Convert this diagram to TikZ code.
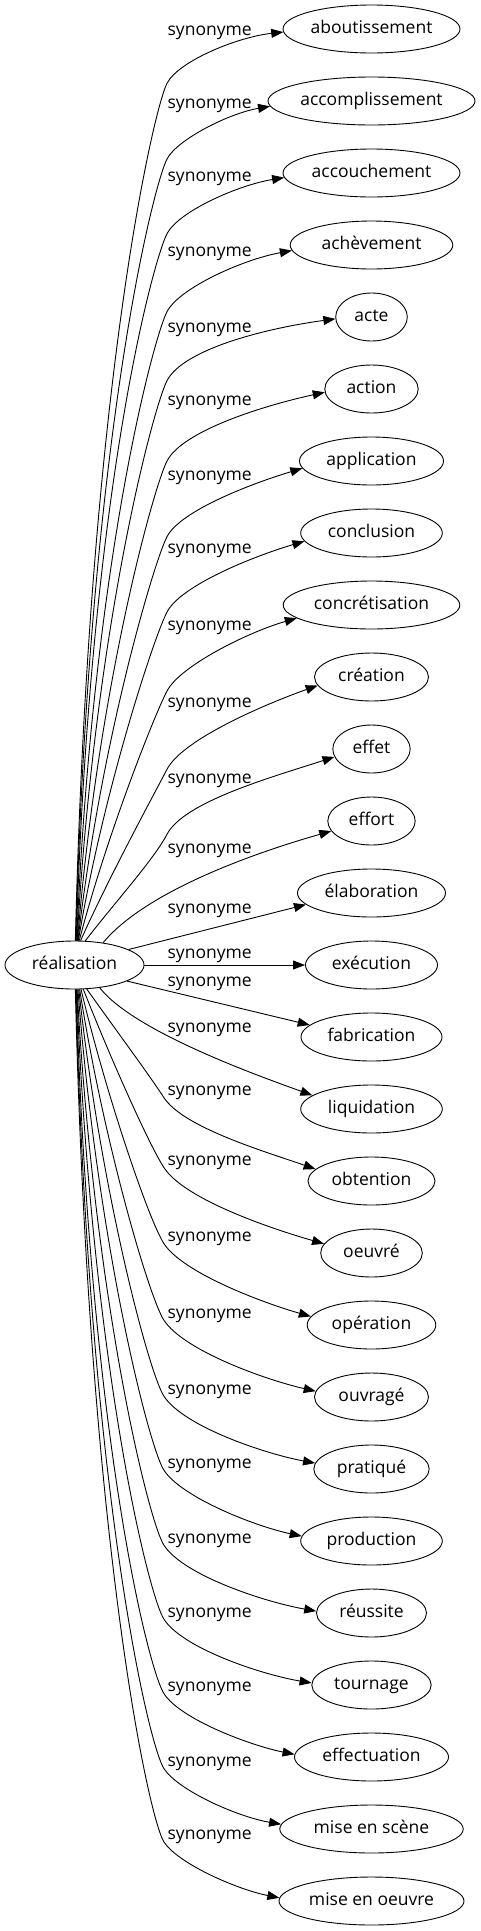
\documentclass[tikz,border=0pt]{standalone}
\usepackage{fontspec}
\setmainfont{Open Sans}
\usetikzlibrary{arrows.meta,calc,shapes.geometric}

% upper edge: #1 node, #2 yc, #3 half width, #4 label y, #5 knee offset, #6 start angle, #7 end angle, #8 theta
\newcommand\UpEdge[8]{%
  \pgfmathsetmacro\eRS{1/sqrt((cos(#6)/69.5)^2+(sin(#6)/24)^2)}%
  \pgfmathsetmacro\eSx{74.5+\eRS*cos(#6)}%
  \pgfmathsetmacro\eSy{965-\eRS*sin(#6)}%
  \pgfmathsetmacro\eRT{1/sqrt((cos(#7)/#3)^2+(sin(#7)/24)^2)}%
  \pgfmathsetmacro\eTx{371.5+\eRT*cos(#7)}%
  \pgfmathsetmacro\eTy{#2-\eRT*sin(#7)}%
  \pgfmathsetmacro\eKx{167}%
  \pgfmathsetmacro\eKy{#4+#5}%
  \pgfmathsetmacro\eDX{\eKx-\eSx}%
  \pgfmathsetmacro\eDY{\eSy-\eKy}%
  \pgfmathsetmacro\eF{min(1,max(0,(\eDY-120)/600))}%
  \pgfmathsetmacro\eCa{\eSx+(0.35-0.2*\eF)*\eDX}%
  \pgfmathsetmacro\eCb{\eSy-(0.35+0.3*\eF)*\eDY}%
  \pgfmathsetmacro\eS{0.22*(\eTx-\eKx)}%
  \pgfmathsetmacro\eL{0.38*(\eTx-\eKx)}%
  \draw[edge] (r.#6) .. controls (\eCa,\eCb) and ({\eKx-13},{\eKy+25}) .. (\eKx,\eKy)
    .. controls ({\eKx+0.46*\eS},{\eKy-0.89*\eS}) and ({\eTx-\eL*cos(#8)},{\eTy+\eL*sin(#8)}) .. (#1.#7);
}
% lower edge: #1 node, #2 yc, #3 half width, #4 label y, #5 start angle, #6 end angle, #7 theta
\newcommand\DnEdge[7]{%
  \pgfmathsetmacro\eRS{1/sqrt((cos(#5)/69.5)^2+(sin(#5)/24)^2)}%
  \pgfmathsetmacro\eSx{74.5+\eRS*cos(#5)}%
  \pgfmathsetmacro\eSy{965-\eRS*sin(#5)}%
  \pgfmathsetmacro\eRT{1/sqrt((cos(#6)/#3)^2+(sin(#6)/24)^2)}%
  \pgfmathsetmacro\eTx{371.5+\eRT*cos(#6)}%
  \pgfmathsetmacro\eTy{#2-\eRT*sin(#6)}%
  \pgfmathsetmacro\eQx{164}%
  \pgfmathsetmacro\eQy{#4+7}%
  \pgfmathsetmacro\eDX{\eQx-\eSx}%
  \pgfmathsetmacro\eDY{\eQy-\eSy}%
  \pgfmathsetmacro\eF{min(1,max(0,(\eDY-120)/600))}%
  \pgfmathsetmacro\eCa{\eSx+(0.35-0.2*\eF)*\eDX}%
  \pgfmathsetmacro\eCb{\eSy+(0.35+0.3*\eF)*\eDY}%
  \pgfmathsetmacro\eS{0.24*(\eTx-\eQx)}%
  \pgfmathsetmacro\eL{0.33*(\eTx-\eQx)}%
  \draw[edge] (r.#5) .. controls (\eCa,\eCb) and ({\eQx-15},{\eQy-23}) .. (\eQx,\eQy)
    .. controls ({\eQx+0.55*\eS},{\eQy+0.84*\eS}) and ({\eTx-\eL*cos(#7)},{\eTy-\eL*sin(#7)}) .. (#1.#6);
}

\begin{document}
\begin{tikzpicture}[x=1pt,y=-1pt,
  word/.style={draw, ellipse, line width=0.9pt, minimum height=48pt, inner sep=0pt,
    text height=9.54pt, text depth=0pt, font=\fontsize{17.5}{21}\selectfont},
  lab/.style={anchor=base west, inner sep=0pt, font=\fontsize{17.5}{21}\selectfont},
  edge/.style={line width=0.9pt, -{Triangle[length=12pt,width=9pt]}}]
\useasboundingbox (0,0) rectangle (481,1931);

\node[word, minimum width=139pt] (r) at (74.5,965) {réalisation};

\node[word, minimum width=177pt] (n0) at (371.5,29) {aboutissement};
\node[word, minimum width=207pt] (n1) at (371.5,101) {accomplissement};
\node[word, minimum width=177pt] (n2) at (371.5,173) {accouchement};
\node[word, minimum width=162.6pt] (n3) at (371.5,245) {achèvement};
\node[word, minimum width=71.6pt] (n4) at (371.5,317) {acte};
\node[word, minimum width=93.4pt] (n5) at (371.5,389) {action};
\node[word, minimum width=144pt] (n6) at (371.5,461) {application};
\node[word, minimum width=141.6pt] (n7) at (371.5,533) {conclusion};
\node[word, minimum width=176.6pt] (n8) at (371.5,605) {concrétisation};
\node[word, minimum width=114pt] (n9) at (371.5,677) {création};
\node[word, minimum width=77.4pt] (n10) at (371.5,749) {effet};
\node[word, minimum width=87.4pt] (n11) at (371.5,821) {effort};
\node[word, minimum width=148pt] (n12) at (371.5,893) {élaboration};
\node[word, minimum width=132pt] (n13) at (371.5,965) {exécution};
\node[word, minimum width=141pt] (n14) at (371.5,1037) {fabrication};
\node[word, minimum width=141.6pt] (n15) at (371.5,1109) {liquidation};
\node[word, minimum width=127pt] (n16) at (371.5,1181) {obtention};
\node[word, minimum width=101.6pt] (n17) at (371.5,1253) {oeuvré};
\node[word, minimum width=128.6pt] (n18) at (371.5,1325) {opération};
\node[word, minimum width=114pt] (n19) at (371.5,1397) {ouvragé};
\node[word, minimum width=115.4pt] (n20) at (371.5,1469) {pratiqué};
\node[word, minimum width=141.6pt] (n21) at (371.5,1541) {production};
\node[word, minimum width=110pt] (n22) at (371.5,1613) {réussite};
\node[word, minimum width=119.4pt] (n23) at (371.5,1685) {tournage};
\node[word, minimum width=154pt] (n24) at (371.5,1757) {effectuation};
\node[word, minimum width=183.4pt] (n25) at (371.5,1829) {mise en scène};
\node[word, minimum width=185pt] (n26) at (371.5,1901) {mise en oeuvre};

\foreach \yy [count=\i from 0] in {30.3,104,176.7,251.7,327.7,401,475.7,549,626,702.3,778.3,848.3,909,953.3,981.7,1027.3,1090.7,1160.7,1236.7,1313.3,1389.3,1463.3,1538.3,1612.3,1686.7,1761.7,1835}
  \node[lab] (lab\i) at (167.4,\yy+4.8) {synonyme};

\UpEdge{n0}{29}{88.5}{30.3}{53}{88}{182}{6.4}
\UpEdge{n1}{101}{103.5}{104}{55}{87}{183.5}{9}
\UpEdge{n2}{173}{88.5}{176.7}{57}{86}{183.4}{9}
\UpEdge{n3}{245}{81.3}{251.7}{60}{85}{184}{11}
\UpEdge{n4}{317}{35.8}{327.7}{53}{84}{183}{7.6}
\UpEdge{n5}{389}{46.7}{401}{60}{83}{184.5}{12}
\UpEdge{n6}{461}{72}{475.7}{61}{82}{186}{17}
\UpEdge{n7}{533}{70.8}{549}{63}{81}{187}{17}
\UpEdge{n8}{605}{88.3}{626}{65}{79}{190}{16}
\UpEdge{n9}{677}{57}{702.3}{67}{76}{189.5}{19}
\UpEdge{n10}{749}{38.7}{778.3}{56}{66}{192}{18}
\draw[edge] (r.38) .. controls (152.6,883.1) and ($(n11.194)+(-43.3,12.4)$) .. (n11.194);
\draw[edge] (r.16) -- (n12.190);
\draw[edge] (r.east) -- (n13.west);
\draw[edge] (r.-17) -- (n14.169);
\draw[edge] (r.-42) .. controls (134.4,1032.4) and ($(n15.167)+(-47,-17.1)$) .. (n15.167);
\DnEdge{n16}{1181}{63.5}{1090.7}{-63}{168.4}{20}
\DnEdge{n17}{1253}{50.8}{1160.7}{-70}{169.7}{16.7}
\DnEdge{n18}{1325}{64.3}{1236.7}{-75}{172}{16}
\DnEdge{n19}{1397}{57}{1313.3}{-78}{174.6}{13.5}
\DnEdge{n20}{1469}{57.7}{1389.3}{-80}{174.4}{11}
\DnEdge{n21}{1541}{70.8}{1463.3}{-82}{176}{12.8}
\DnEdge{n22}{1613}{55}{1538.3}{-84}{178}{10}
\DnEdge{n23}{1685}{59.7}{1612.3}{-85}{178.4}{10}
\DnEdge{n24}{1757}{77}{1686.7}{-86}{178.5}{12}
\DnEdge{n25}{1829}{91.7}{1761.7}{-87}{177.5}{13}
\DnEdge{n26}{1901}{92.5}{1835}{-88}{178.3}{14}
\end{tikzpicture}
\end{document}
